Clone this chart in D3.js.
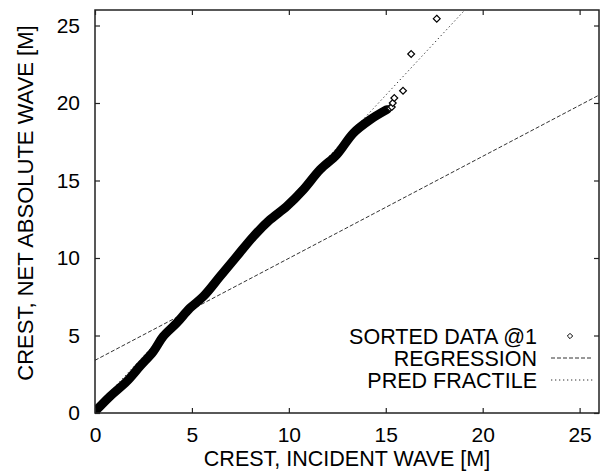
<!DOCTYPE html>
<html>
<head>
<meta charset="utf-8">
<script src="https://cdn.jsdelivr.net/npm/d3@7"></script>
<style>
  body { margin: 0; background: #fff; }
  text { font-family: "Liberation Sans", Arial, Helvetica, sans-serif; fill: #000; }
</style>
</head>
<body>
<svg id="chart" width="609" height="471"></svg>
<script>
// sorted data (x = incident crest, y = net absolute crest)
const denseX = [0.09, 0.77, 1.64, 2.32, 3.01, 3.52, 4.22, 4.90, 5.59, 6.45, 7.31, 8.17, 9.03, 9.89, 10.75, 11.61, 12.47, 13.33, 14.19, 15.05];
const denseY = [0.21, 1.07, 2.04, 3.01, 3.97, 4.94, 5.81, 6.77, 7.52, 8.81, 10.10, 11.39, 12.47, 13.33, 14.41, 15.70, 16.66, 18.06, 18.92, 19.57];
const tailX = [15.22, 15.31, 15.36, 15.44, 15.89, 16.31, 17.63];
const tailY = [19.68, 19.74, 20.00, 20.32, 20.79, 23.16, 25.44];

const regression = { intercept: 3.4, slope: 0.658 };
const fractile = { intercept: 0.3, slope: 1.347 };

const ticks = [0, 5, 10, 15, 20, 25];
const legendLabels = ["SORTED DATA @1", "REGRESSION", "PRED FRACTILE"];

const svg = d3.select("#chart");
const pLeft = 95, pRight = 599, pTop = 10, pBottom = 413;

const x = d3.scaleLinear().domain([0, 26]).range([pLeft, pRight]);
const y = d3.scaleLinear().domain([0, 26]).range([pBottom, pTop]);

svg.append("defs").append("clipPath").attr("id", "clip")
  .append("rect").attr("x", pLeft).attr("y", pTop)
  .attr("width", pRight - pLeft).attr("height", pBottom - pTop);

const plot = svg.append("g").attr("clip-path", "url(#clip)");

// fitted lines
function fitLine(p, dash) {
  plot.append("line")
    .attr("x1", x(0)).attr("y1", y(p.intercept))
    .attr("x2", x(26)).attr("y2", y(p.intercept + p.slope * 26))
    .attr("stroke", "#333").attr("stroke-width", 1)
    .attr("stroke-dasharray", dash);
}
fitLine(regression, "4,2");
fitLine(fractile, "1.3,2.7");

// dense part of the sorted data, overlapping markers give a solid band
const dense = denseX.map((d, i) => [d, denseY[i]]);
plot.append("path")
  .datum(dense)
  .attr("d", d3.line().curve(d3.curveCatmullRom).x(d => x(d[0])).y(d => y(d[1])))
  .attr("fill", "none")
  .attr("stroke", "#000")
  .attr("stroke-width", 9)
  .attr("stroke-linejoin", "round")
  .attr("stroke-linecap", "round");

const diamond = d3.symbol().type(d3.symbolDiamond2).size(30);
const tail = tailX.map((d, i) => [d, tailY[i]]);
plot.selectAll(".pt")
  .data(tail)
  .join("path")
  .attr("class", "pt")
  .attr("transform", d => "translate(" + x(d[0]) + "," + y(d[1]) + ")")
  .attr("d", diamond)
  .attr("fill", "#fff")
  .attr("stroke", "#000")
  .attr("stroke-width", 1.2);

// frame and ticks (gnuplot style, mirrored inwards)
svg.append("rect")
  .attr("x", pLeft).attr("y", pTop)
  .attr("width", pRight - pLeft).attr("height", pBottom - pTop)
  .attr("fill", "none").attr("stroke", "#222").attr("stroke-width", 1.5);

const tl = 5;
svg.append("g").attr("transform", "translate(0," + pBottom + ")")
  .call(d3.axisBottom(x).tickValues(ticks).tickSize(-tl).tickPadding(14))
  .call(g => g.select(".domain").remove());
svg.append("g").attr("transform", "translate(0," + pTop + ")")
  .call(d3.axisTop(x).tickValues(ticks).tickSize(-tl).tickFormat(""))
  .call(g => g.select(".domain").remove());
svg.append("g").attr("transform", "translate(" + pLeft + ",0)")
  .call(d3.axisLeft(y).tickValues(ticks).tickSize(-tl).tickPadding(15))
  .call(g => g.select(".domain").remove());
svg.append("g").attr("transform", "translate(" + pRight + ",0)")
  .call(d3.axisRight(y).tickValues(ticks).tickSize(-tl).tickFormat(""))
  .call(g => g.select(".domain").remove());

svg.selectAll(".tick line").attr("stroke", "#222").attr("stroke-width", 1.2);
svg.selectAll(".tick text").style("font-size", "21px").attr("fill", "#000");

// axis titles
svg.append("text")
  .attr("x", (pLeft + pRight) / 2).attr("y", 466)
  .attr("text-anchor", "middle")
  .style("font-size", "21.5px")
  .text("CREST, INCIDENT WAVE [M]");

svg.append("text")
  .attr("transform", "translate(33,203) rotate(-90)")
  .attr("text-anchor", "middle")
  .style("font-size", "22px")
  .text("CREST, NET ABSOLUTE WAVE [M]");

// legend
const legend = svg.append("g");
const rowY = [336, 358, 380];
legendLabels.forEach((t, i) => {
  legend.append("text")
    .attr("x", 537).attr("y", rowY[i] + 7.5)
    .attr("text-anchor", "end")
    .style("font-size", "21.5px")
    .text(t);
});
legend.append("path")
  .attr("transform", "translate(570," + rowY[0] + ")")
  .attr("d", d3.symbol().type(d3.symbolDiamond2).size(18))
  .attr("fill", "#fff").attr("stroke", "#000").attr("stroke-width", 1);
legend.append("line")
  .attr("x1", 551).attr("x2", 593).attr("y1", rowY[1]).attr("y2", rowY[1])
  .attr("stroke", "#333").attr("stroke-dasharray", "4,2");
legend.append("line")
  .attr("x1", 551).attr("x2", 593).attr("y1", rowY[2]).attr("y2", rowY[2])
  .attr("stroke", "#333").attr("stroke-dasharray", "1.3,2.7");
</script>
</body>
</html>
